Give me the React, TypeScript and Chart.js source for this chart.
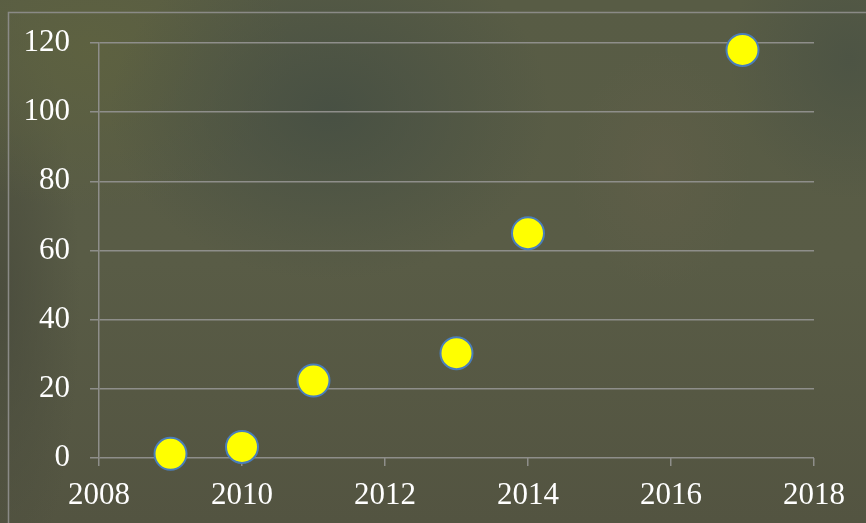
import React, { useEffect, useRef } from "react";
import { Chart, registerables } from "chart.js";

Chart.register(...registerables);

const years = [2009, 2010, 2011, 2013, 2014, 2017];
const values = [1.2, 3.2, 22.4, 30.3, 65, 118];
const xTicks = [2008, 2010, 2012, 2014, 2016, 2018];
const yTicks = [0, 20, 40, 60, 80, 100, 120];

const FONT = "'Liberation Serif', 'DejaVu Serif', serif";

const framePlugin = {
  id: "frame",
  beforeDraw(chart: any) {
    const ctx = chart.ctx;
    ctx.save();
    ctx.strokeStyle = "#8a8a86";
    ctx.lineWidth = 1.5;
    ctx.beginPath();
    ctx.moveTo(8.5, chart.height + 2);
    ctx.lineTo(8.5, 12.5);
    ctx.lineTo(chart.width + 2, 12.5);
    ctx.stroke();
    ctx.restore();
  },
};

export default function App() {
  const ref = useRef<HTMLCanvasElement | null>(null);
  useEffect(() => {
    if (!ref.current) return;
    const chart = new Chart(ref.current, {
      type: "scatter",
      data: {
        datasets: [
          {
            data: years.map((y, i) => ({ x: y, y: values[i] })),
            backgroundColor: "#ffff00",
            borderColor: "#4a7ebb",
            borderWidth: 2,
            pointRadius: 16,
            pointHoverRadius: 16,
            clip: false as any,
          },
        ],
      },
      options: {
        animation: false,
        responsive: false,
        maintainAspectRatio: false,
        layout: { padding: { top: 43, right: 52, left: 0, bottom: 0 } },
        plugins: { legend: { display: false }, tooltip: { enabled: false } },
        scales: {
          x: {
            type: "linear",
            min: 2008,
            max: 2018,
            afterBuildTicks: (s: any) => {
              s.ticks = xTicks.map((v) => ({ value: v }));
            },
            afterFit: (s: any) => {
              s.height = 65;
            },
            ticks: {
              color: "#ffffff",
              font: { family: FONT, size: 31 },
              padding: 11,
              maxRotation: 0,
              callback: (v: any) => String(v),
            },
            grid: {
              drawOnChartArea: false,
              drawTicks: true,
              tickLength: 8,
              color: "#8e8e8a",
              lineWidth: 1.5,
            },
            border: { display: false },
          },
          y: {
            type: "linear",
            min: 0,
            max: 120,
            afterBuildTicks: (s: any) => {
              s.ticks = yTicks.map((v) => ({ value: v }));
            },
            afterFit: (s: any) => {
              s.width = 99;
            },
            ticks: {
              color: "#ffffff",
              font: { family: FONT, size: 31 },
              padding: 20,
              callback: (v: any) => String(v),
            },
            grid: {
              drawTicks: true,
              tickLength: 9,
              color: "#8e8e8a",
              lineWidth: 1.5,
            },
            border: { display: true, color: "#8e8e8a", width: 1.5 },
          },
        },
      },
      plugins: [framePlugin],
    });
    return () => chart.destroy();
  }, []);

  return (
    <div
      style={{
        position: "fixed",
        left: 0,
        top: 0,
        width: 866,
        height: 523,
        overflow: "hidden",
        background: [
          "radial-gradient(ellipse 220px 170px at 330px 110px, rgba(70,79,67,0.9), rgba(70,79,67,0))",
          "radial-gradient(ellipse 90px 120px at 660px 170px, rgba(100,96,74,0.5), rgba(100,96,74,0))",
          "radial-gradient(ellipse 200px 160px at 90px 50px, rgba(94,98,64,0.9), rgba(94,98,64,0))",
          "radial-gradient(ellipse 120px 140px at 850px 60px, rgba(74,82,68,0.8), rgba(74,82,68,0))",
          "radial-gradient(ellipse 80px 300px at 0px 300px, rgba(72,74,60,0.8), rgba(72,74,60,0))",
          "linear-gradient(180deg, #585c45 0%, #595c46 50%, #535441 100%)",
        ].join(","),
      }}
    >
      <canvas ref={ref} width={866} height={523} style={{ display: "block" }} />
    </div>
  );
}
